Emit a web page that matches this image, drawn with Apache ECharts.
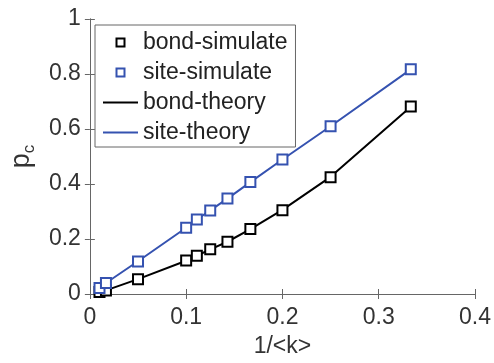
<!DOCTYPE html>
<html lang="en">
<head>
  <meta charset="UTF-8">
  <title>pc vs 1/k</title>
  <script src="https://cdn.jsdelivr.net/npm/echarts@6/dist/echarts.min.js"></script>
</head>
<body style="margin:0">
  <div id="app" style="width: 494px; height: 363px;"></div>
  <script>
    // 1/<k> values and p_c
    var kInv = [0.01, 0.0167, 0.05, 0.1, 0.1111, 0.125, 0.1429, 0.1667, 0.2, 0.25, 0.3333]
    var bondSim = [0.007, 0.013, 0.054, 0.122, 0.139, 0.163, 0.19, 0.236, 0.305, 0.425, 0.682]
    var siteSim = [0.022, 0.04, 0.118, 0.241, 0.271, 0.304, 0.347, 0.407, 0.489, 0.61, 0.817]
    var bondTheory = [0.007, 0.013, 0.054, 0.121, 0.139, 0.162, 0.19, 0.236, 0.306, 0.426, 0.681]
    var siteTheory = [0.022, 0.04, 0.119, 0.241, 0.271, 0.304, 0.347, 0.407, 0.489, 0.61, 0.817]
    var xTicks = [0, 0.1, 0.2, 0.3, 0.4]
    var yTicks = [0, 0.2, 0.4, 0.6, 0.8, 1]

    var blue = '#3552b0'
    var font = 'Liberation Sans, Arial, sans-serif'

    function pairs(xs, ys) {
      return xs.map(function (x, i) { return [x, ys[i]] })
    }

    var chart = echarts.init(document.querySelector('#app'))
    var axisCommon = {
      type: 'value',
      axisLine: { show: true, lineStyle: { color: '#666', width: 1 } },
      axisTick: { show: true, inside: true, length: 5, lineStyle: { color: '#666' } },
      splitLine: { show: false }
    }
    var noSymbol = { color: 'transparent', borderColor: 'transparent', borderWidth: 0, opacity: 0 }
    var option = {
      animation: false,
      textStyle: { fontFamily: font },
      grid: { left: 87, right: 19, top: 19, bottom: 67 },
      legend: {
        orient: 'vertical',
        left: 95, top: 25,
        padding: [6, 8, 3, 7],
        itemWidth: 35, itemHeight: 10, itemGap: 7, itemTextGap: 4,
        backgroundColor: '#fff',
        borderColor: '#666', borderWidth: 1, borderRadius: 0,
        textStyle: { fontSize: 23, color: '#222', fontFamily: font, lineHeight: 23 },
        data: [
          { name: 'bond-simulate', lineStyle: { opacity: 0 } },
          { name: 'site-simulate', lineStyle: { opacity: 0 } },
          { name: 'bond-theory', itemStyle: noSymbol },
          { name: 'site-theory', itemStyle: noSymbol }
        ]
      },
      xAxis: [
        Object.assign({}, axisCommon, {
          min: 0, max: 0.4, interval: 0.1,
          name: '1/<k>', nameLocation: 'middle', nameGap: 41,
          nameTextStyle: { fontSize: 23, color: '#333', fontFamily: font },
          axisLabel: {
            fontSize: 23, color: '#333', margin: 12,
            formatter: function (v) { return xTicks.indexOf(+v.toFixed(1)) >= 0 ? String(+v.toFixed(1)) : '' }
          }
        }),
        Object.assign({}, axisCommon, {
          position: 'top', min: 0, max: 0.4, interval: 0.1,
          axisLabel: { show: false }
        })
      ],
      yAxis: [
        Object.assign({}, axisCommon, {
          min: 0, max: 1, interval: 0.2,
          name: '{p|p}{c|c}', nameLocation: 'middle', nameGap: 49, nameRotate: 90,
          nameTextStyle: {
            rich: {
              p: { fontSize: 27, color: '#333', fontFamily: font },
              c: { fontSize: 17, color: '#333', fontFamily: font, padding: [16, 0, 0, 0] }
            }
          },
          axisLabel: {
            fontSize: 23, color: '#333', margin: 9,
            formatter: function (v) { return yTicks.indexOf(+v.toFixed(1)) >= 0 ? String(+v.toFixed(1)) : '' }
          }
        }),
        Object.assign({}, axisCommon, {
          position: 'right', min: 0, max: 1, interval: 0.2,
          axisLabel: { show: false }
        })
      ],
      series: [
        {
          name: 'bond-theory', type: 'line', symbol: 'none',
          data: pairs(kInv, bondTheory),
          lineStyle: { color: '#000', width: 2 }, itemStyle: { color: '#000' }, z: 2
        },
        {
          name: 'site-theory', type: 'line', symbol: 'none',
          data: pairs(kInv, siteTheory),
          lineStyle: { color: blue, width: 2 }, itemStyle: { color: blue }, z: 2
        },
        {
          name: 'bond-simulate', type: 'line', symbol: 'emptyRect', symbolSize: 10,
          data: pairs(kInv, bondSim),
          lineStyle: { width: 0, color: '#000' },
          itemStyle: { color: '#000', borderWidth: 1.6 }, z: 3
        },
        {
          name: 'site-simulate', type: 'line', symbol: 'emptyRect', symbolSize: 10,
          data: pairs(kInv, siteSim),
          lineStyle: { width: 0, color: blue },
          itemStyle: { color: blue, borderWidth: 1.6 }, z: 3
        }
      ]
    }
    chart.setOption(option)
  </script>
</body>
</html>
